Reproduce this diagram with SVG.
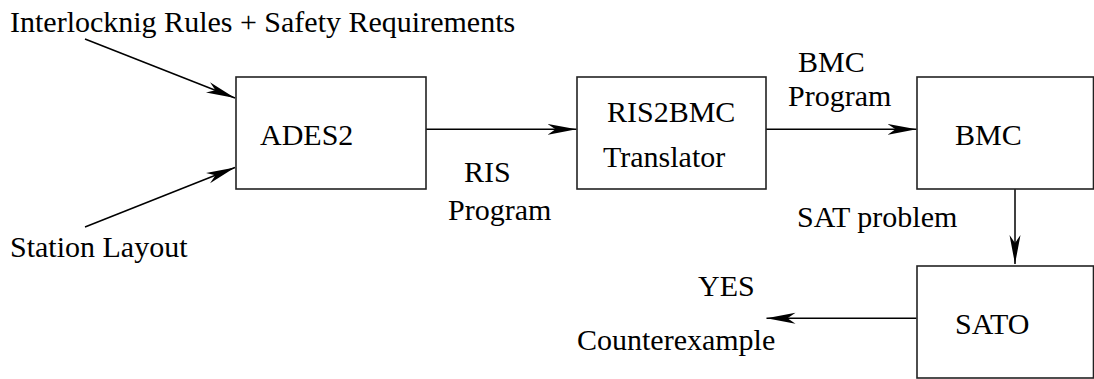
<svg xmlns="http://www.w3.org/2000/svg" width="1094" height="379" viewBox="0 0 1094 379">
<style>
text{font-family:"Liberation Serif","Times New Roman",serif;font-size:30px;fill:#000}
.box{fill:#fff;stroke:#222;stroke-width:1.6}
.edge{fill:none;stroke:#000;stroke-width:1.5}
</style>
<defs>
<marker id="ah" markerUnits="userSpaceOnUse" markerWidth="32" markerHeight="14" refX="29" refY="6" orient="auto" viewBox="0 0 32 14">
<path d="M29,6 L0,0.5 L8,6 L0,11.5 Z" fill="#000"/>
</marker>
</defs>
<rect width="1094" height="379" fill="#fff"/>
<g id="connectors">
<line class="edge" x1="85" y1="39" x2="235" y2="98" marker-end="url(#ah)"/>
<line class="edge" x1="85" y1="227" x2="235" y2="167.5" marker-end="url(#ah)"/>
<line class="edge" x1="426" y1="129.3" x2="576.5" y2="129.3" marker-end="url(#ah)"/>
<line class="edge" x1="766" y1="129.3" x2="916.5" y2="129.3" marker-end="url(#ah)"/>
<line class="edge" x1="1015" y1="189" x2="1015" y2="264" marker-end="url(#ah)"/>
<line class="edge" x1="916.5" y1="318.3" x2="766.5" y2="318.3" marker-end="url(#ah)"/>
<text x="464" y="182">RIS</text>
<text x="448" y="220">Program</text>
<text x="798" y="72">BMC</text>
<text x="788" y="106">Program</text>
<text x="797" y="227">SAT problem</text>
<text x="698" y="296">YES</text>
<text x="577" y="350">Counterexample</text>
</g>
<g id="input-rules"><text x="10" y="32">Interlocknig Rules + Safety Requirements</text></g>
<g id="input-layout"><text x="10" y="257">Station Layout</text></g>
<g id="ades2"><rect class="box" x="236" y="77" width="190" height="112"/><text x="260" y="145">ADES2</text></g>
<g id="ris2bmc"><rect class="box" x="577" y="77" width="189" height="112"/><text x="607" y="122">RIS2BMC</text><text x="603" y="167">Translator</text></g>
<g id="bmc"><rect class="box" x="917" y="77" width="176.5" height="112"/><text x="955" y="145">BMC</text></g>
<g id="sato"><rect class="box" x="917" y="266" width="176.5" height="112"/><text x="955" y="334">SATO</text></g>
</svg>
